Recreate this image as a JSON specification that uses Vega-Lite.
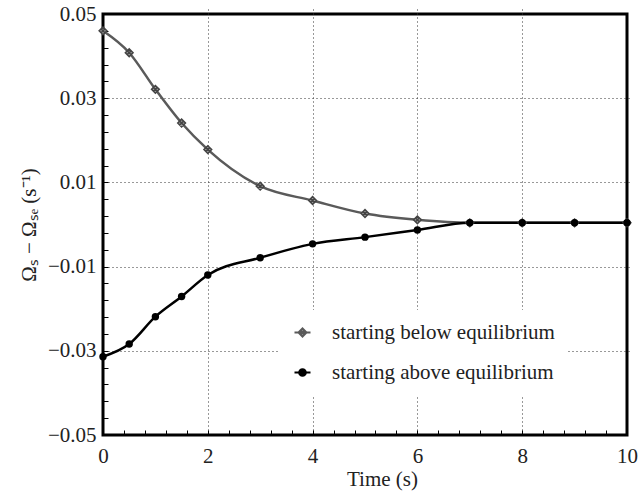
{
  "$schema": "https://vega.github.io/schema/vega-lite/v6.json",
  "width": 524,
  "height": 421,
  "autosize": {"type": "none"},
  "padding": {"left": 103, "top": 14, "right": 14, "bottom": 63},
  "background": "white",
  "config": {
    "view": {"stroke": "black", "strokeWidth": 3},
    "font": "Liberation Serif",
    "axis": {
      "domain": false,
      "tickColor": "black",
      "tickWidth": 1,
      "tickSize": 5,
      "offset": -5,
      "gridColor": "#333",
      "gridDash": [1, 3],
      "gridWidth": 1,
      "labelOverlap": false,
      "labelBound": false,
      "labelFlush": false
    }
  },
  "data": {
    "values": [
      {"t": 0, "v": 0.046, "s": "starting below equilibrium"},
      {"t": 0.5, "v": 0.0408, "s": "starting below equilibrium"},
      {"t": 1, "v": 0.0321, "s": "starting below equilibrium"},
      {"t": 1.5, "v": 0.0241, "s": "starting below equilibrium"},
      {"t": 2, "v": 0.0178, "s": "starting below equilibrium"},
      {"t": 3, "v": 0.0091, "s": "starting below equilibrium"},
      {"t": 4, "v": 0.0057, "s": "starting below equilibrium"},
      {"t": 5, "v": 0.0026, "s": "starting below equilibrium"},
      {"t": 6, "v": 0.0011, "s": "starting below equilibrium"},
      {"t": 7, "v": 0.0004, "s": "starting below equilibrium"},
      {"t": 8, "v": 0.0004, "s": "starting below equilibrium"},
      {"t": 9, "v": 0.0004, "s": "starting below equilibrium"},
      {"t": 10, "v": 0.0004, "s": "starting below equilibrium"},
      {"t": 0, "v": -0.0314, "s": "starting above equilibrium"},
      {"t": 0.5, "v": -0.0284, "s": "starting above equilibrium"},
      {"t": 1, "v": -0.0219, "s": "starting above equilibrium"},
      {"t": 1.5, "v": -0.0171, "s": "starting above equilibrium"},
      {"t": 2, "v": -0.012, "s": "starting above equilibrium"},
      {"t": 3, "v": -0.0079, "s": "starting above equilibrium"},
      {"t": 4, "v": -0.0046, "s": "starting above equilibrium"},
      {"t": 5, "v": -0.003, "s": "starting above equilibrium"},
      {"t": 6, "v": -0.0013, "s": "starting above equilibrium"},
      {"t": 7, "v": 0.0004, "s": "starting above equilibrium"},
      {"t": 8, "v": 0.0004, "s": "starting above equilibrium"},
      {"t": 9, "v": 0.0004, "s": "starting above equilibrium"},
      {"t": 10, "v": 0.0004, "s": "starting above equilibrium"}
    ]
  },
  "encoding": {
    "x": {
      "field": "t",
      "type": "quantitative",
      "scale": {"domain": [0, 10], "nice": false, "zero": false},
      "axis": {
        "title": "Time (s)",
        "values": [0, 0.4, 0.8, 1.2, 1.6, 2, 2.4, 2.8, 3.2, 3.6, 4, 4.4, 4.8, 5.2, 5.6, 6, 6.4, 6.8, 7.2, 7.6, 8, 8.4, 8.8, 9.2, 9.6, 10],
        "labelExpr": "datum.value % 2 == 0 ? format(datum.value, 'd') : ''",
        "labelFont": "Liberation Serif",
        "labelFontSize": 21,
        "labelColor": "#222",
        "titleFont": "Liberation Serif",
        "titleFontSize": 21,
        "titleFontWeight": "normal",
        "titleColor": "#222",
        "labelPadding": 10,
        "titlePadding": 2,
        "titleX": 279,
        "gridOpacity": {"condition": {"test": "datum.value % 2 == 0 && datum.value > 0 && datum.value < 10", "value": 1}, "value": 0}
      }
    },
    "y": {
      "field": "v",
      "type": "quantitative",
      "scale": {"domain": [-0.05, 0.05], "nice": false, "zero": false},
      "axis": {
        "title": "Ωₛ − Ωₛₑ (s⁻¹)",
        "values": [-0.05, -0.046, -0.042, -0.038, -0.034, -0.03, -0.026, -0.022, -0.018, -0.014, -0.01, -0.006, -0.002, 0.002, 0.006, 0.01, 0.014, 0.018, 0.022, 0.026, 0.03, 0.034, 0.038, 0.042, 0.046, 0.05],
        "labelExpr": "abs(round(datum.value * 1000)) % 20 == 10 ? format(datum.value, '.2f') : ''",
        "labelFont": "Liberation Serif",
        "labelFontSize": 21,
        "labelColor": "#222",
        "titleFont": "Liberation Serif",
        "titleFontSize": 21,
        "titleFontWeight": "normal",
        "titleColor": "#222",
        "labelPadding": 7,
        "titlePadding": 8,
        "gridOpacity": {"condition": {"test": "abs(round(datum.value * 1000)) % 20 == 10 && abs(datum.value) < 0.04", "value": 1}, "value": 0}
      }
    }
  },
  "layer": [
    {
      "mark": {"type": "line", "interpolate": "monotone", "strokeWidth": 2.5},
      "encoding": {
        "stroke": {
          "field": "s",
          "type": "nominal",
          "scale": {"domain": ["starting below equilibrium", "starting above equilibrium"], "range": ["#5a5a5a", "#000000"]},
          "legend": {
            "title": null,
            "orient": "none",
            "legendX": 177,
            "legendY": 296,
            "fillColor": "white",
            "padding": 12,
            "symbolSize": 256,
            "symbolStrokeWidth": 2,
            "labelOffset": 19,
            "rowPadding": 18,
            "labelLimit": 0,
            "labelFont": "Liberation Serif",
            "labelFontSize": 21,
            "labelColor": "#222",
            "labelExpr": "datum.label + '\u00a0\u00a0\u00a0\u00a0\u00a0\u00a0'",
            "encode": {
              "symbols": {
                "update": {
                  "shape": {"signal": "datum.value == 'starting below equilibrium' ? 'M-1,0H1M-0.5,0L0,-0.5L0.5,0L0,0.5ZM-0.3,-0.3L0.3,0.3M-0.3,0.3L0.3,-0.3' : 'M-1,0H1M0.42,0A0.42,0.42,0,1,1,-0.42,0A0.42,0.42,0,1,1,0.42,0Z'"},
                  "fill": {"signal": "datum.value == 'starting below equilibrium' ? '#999999' : '#000000'"},
                  "stroke": {"signal": "datum.value == 'starting below equilibrium' ? '#444444' : '#000000'"},
                  "strokeWidth": {"value": 2},
                  "opacity": {"value": 1},
                  "fillOpacity": {"value": 1}
                }
              }
            }
          }
        }
      }
    },
    {
      "transform": [{"filter": "datum.s == 'starting below equilibrium'"}],
      "mark": {"type": "point", "shape": "M-1,0L0,-1L1,0L0,1ZM-0.6,-0.6L0.6,0.6M-0.6,0.6L0.6,-0.6", "filled": false, "fill": "#a0a0a0", "fillOpacity": 1, "stroke": "#444444", "strokeWidth": 1.5, "opacity": 1, "size": 60}
    },
    {
      "transform": [{"filter": "datum.s == 'starting above equilibrium'"}],
      "mark": {"type": "point", "shape": "circle", "filled": true, "fill": "#000000", "opacity": 1, "size": 55}
    }
  ]
}
